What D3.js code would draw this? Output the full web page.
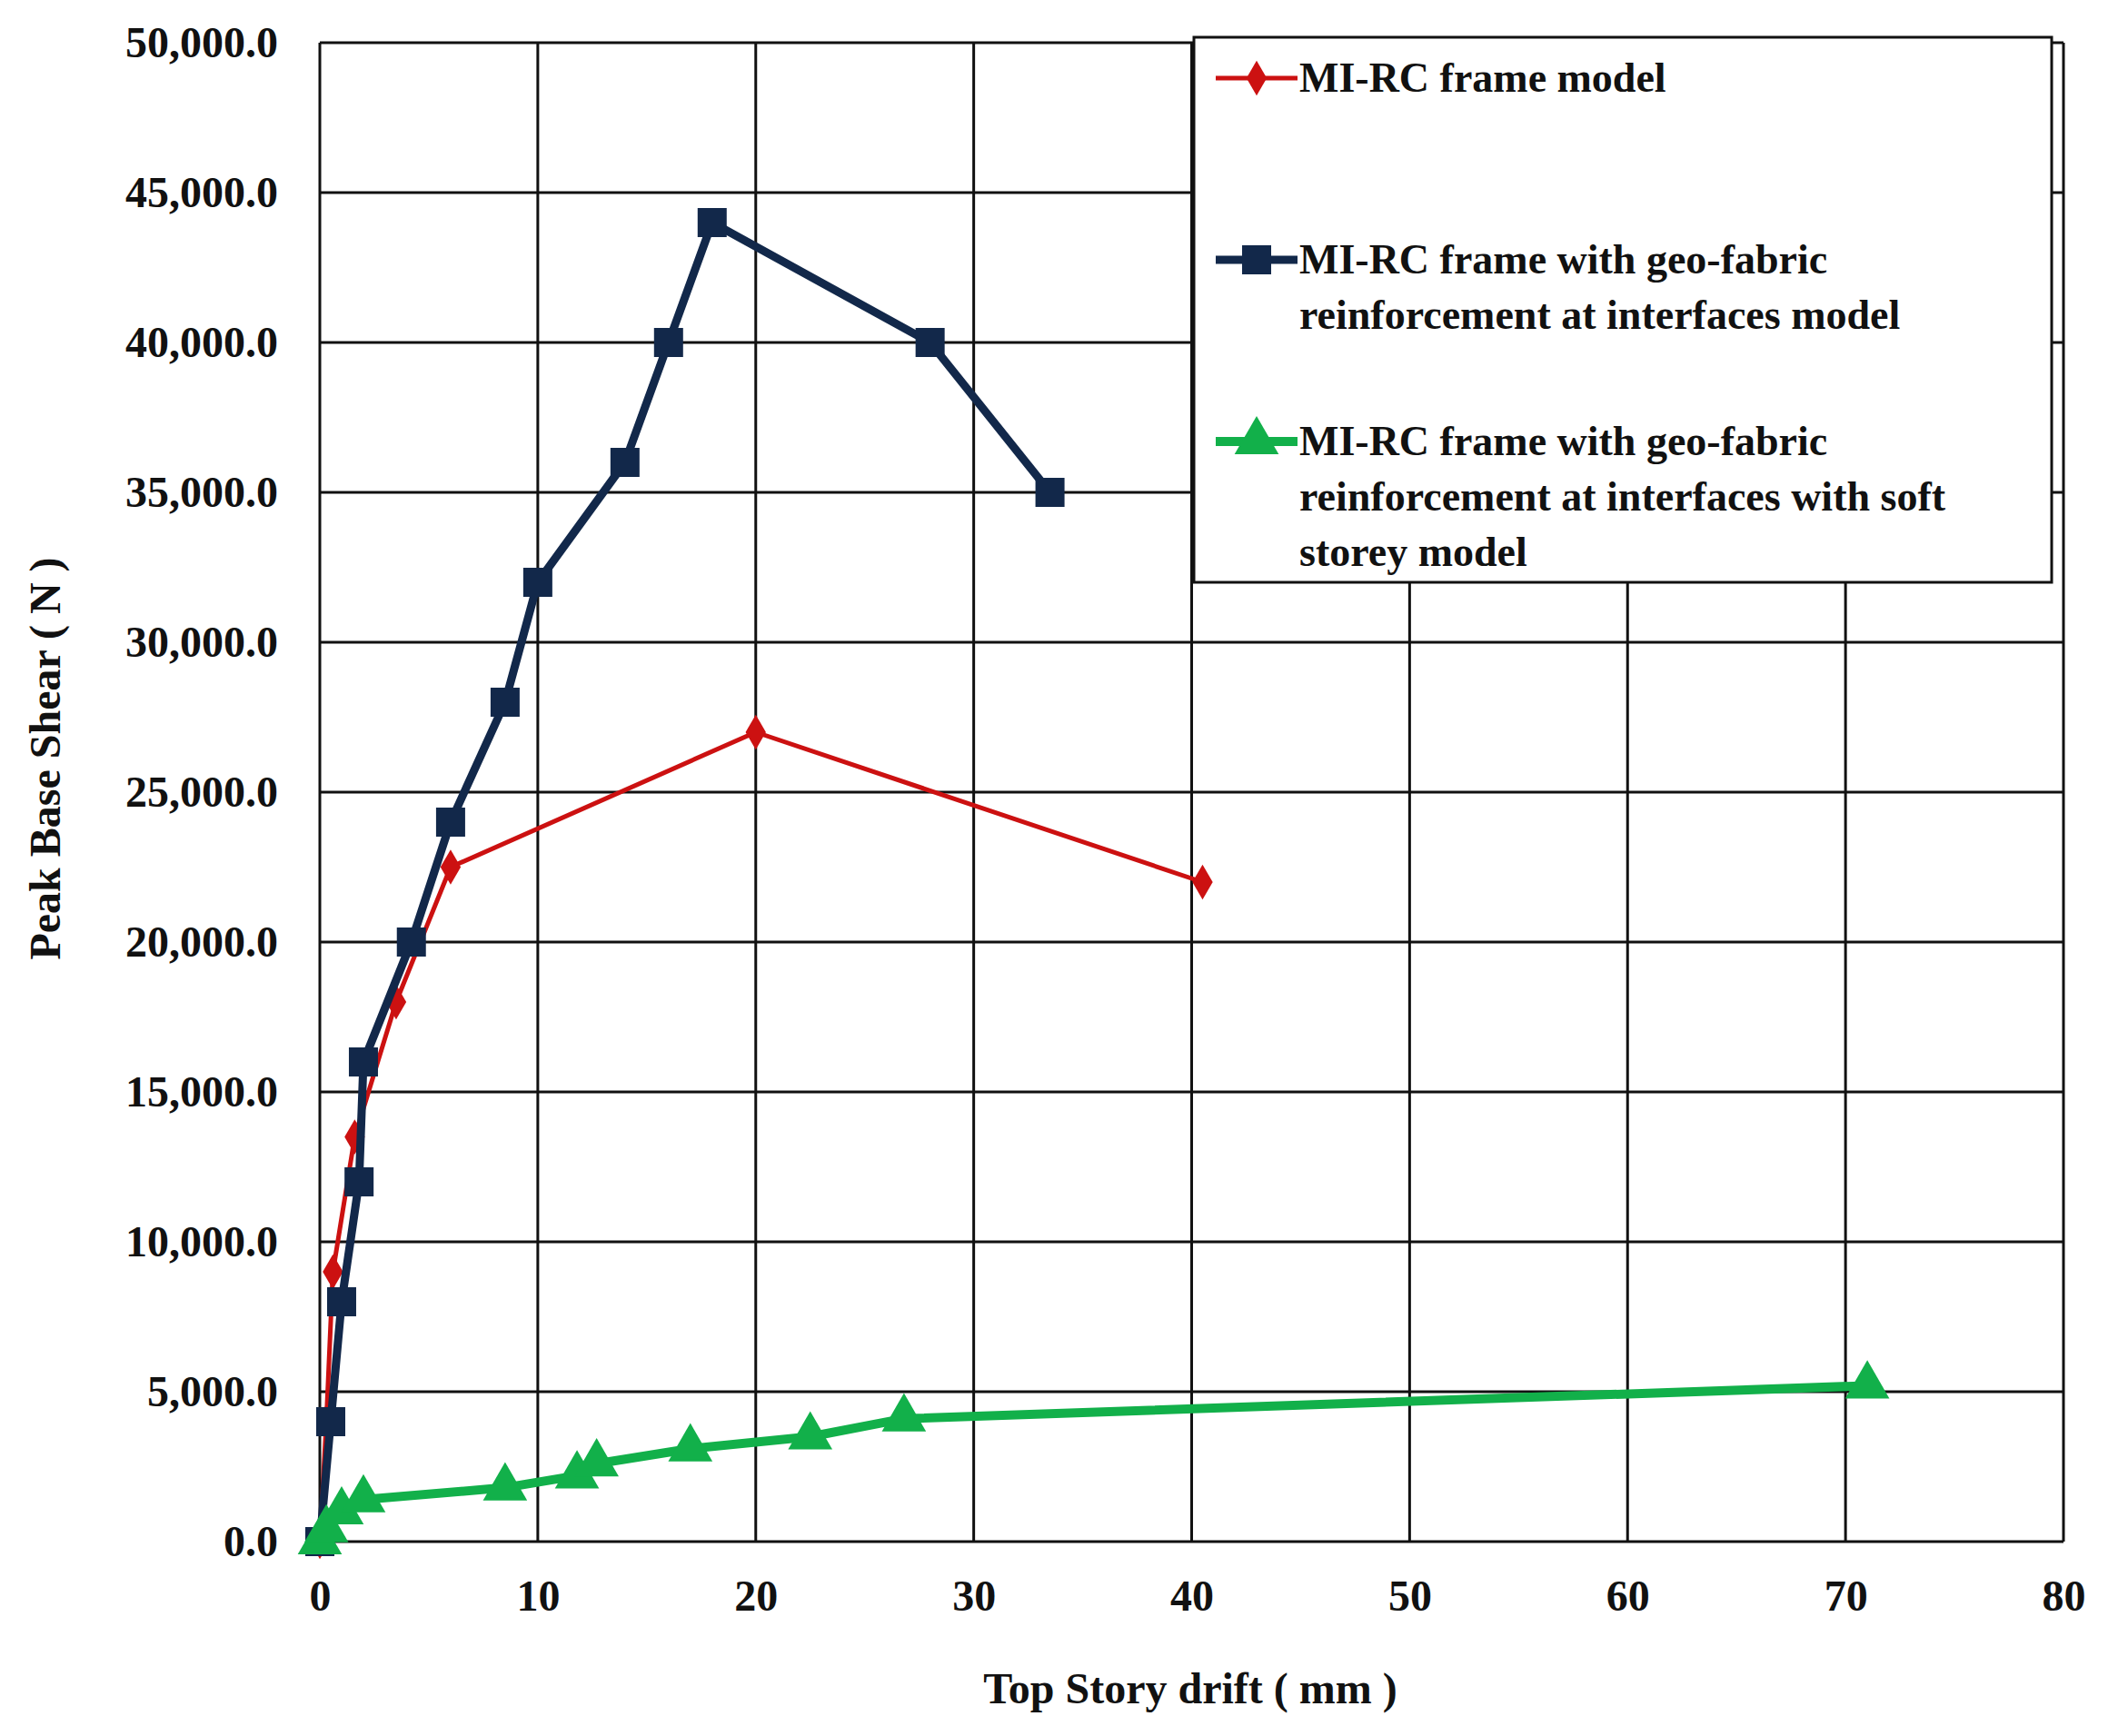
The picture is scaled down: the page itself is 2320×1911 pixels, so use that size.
<!DOCTYPE html>
<html><head><meta charset="utf-8">
<script src="https://cdn.jsdelivr.net/npm/d3@7"></script>
<style>body{margin:0;background:#fff}text{font-family:"Liberation Serif","Times New Roman",serif;font-weight:bold}</style>
</head><body>
<svg id="chart" width="2320" height="1911"></svg>
<script>
// data
var redX = [0, 0.3, 0.6, 1.6, 3.5, 6, 20, 40.5];
var redY = [0, 4000, 9000, 13500, 18000, 22500, 27000, 22000];
var blueX = [0, 0.5, 1, 1.8, 2, 4.2, 6, 8.5, 10, 14, 16, 18, 28, 33.5];
var blueY = [0, 4000, 8000, 12000, 16000, 20000, 24000, 28000, 32000, 36000, 40000, 44000, 40000, 35000];
var greenX = [0, 0.3, 1, 2, 8.5, 11.8, 12.7, 17, 22.5, 26.8, 71];
var greenY = [0, 400, 1000, 1400, 1800, 2200, 2600, 3100, 3500, 4100, 5200];
var xTicks = d3.range(0, 81, 10);
var yTicks = d3.range(0, 50001, 5000);
var names = ["MI-RC frame model",
  ["MI-RC frame with geo-fabric", "reinforcement at interfaces model"],
  ["MI-RC frame with geo-fabric", "reinforcement at interfaces with soft", "storey model"]];

var svg = d3.select("#chart");
var L = 352, R = 2271, T = 47, B = 1697;
var x = d3.scaleLinear().domain([0, 80]).range([L, R]);
var y = d3.scaleLinear().domain([0, 50000]).range([B, T]);

var g = svg.append("g");
g.selectAll(".gx").data(xTicks).enter().append("line")
  .attr("x1", d => x(d)).attr("x2", d => x(d)).attr("y1", T).attr("y2", B)
  .attr("stroke", "#111").attr("stroke-width", 3);
g.selectAll(".gy").data(yTicks).enter().append("line")
  .attr("x1", L).attr("x2", R).attr("y1", d => y(d)).attr("y2", d => y(d))
  .attr("stroke", "#111").attr("stroke-width", 3);

svg.append("g").attr("transform", "translate(0," + B + ")")
  .call(d3.axisBottom(x).tickValues(xTicks).tickSize(0).tickPadding(42))
  .call(a => a.select(".domain").remove())
  .selectAll("text").attr("font-size", 48).attr("fill", "#111");
svg.append("g").attr("transform", "translate(" + (L - 46) + ",0)")
  .call(d3.axisLeft(y).tickValues(yTicks).tickSize(0).tickPadding(0).tickFormat(d3.format(",.1f")))
  .call(a => a.select(".domain").remove())
  .selectAll("text").attr("font-size", 48).attr("fill", "#111");

svg.append("text").attr("x", 1310).attr("y", 1875).attr("text-anchor", "middle")
  .attr("font-size", 48).attr("fill", "#111").text("Top Story  drift ( mm )");
svg.append("text").attr("transform", "translate(66,835) rotate(-90)").attr("text-anchor", "middle")
  .attr("font-size", 48).attr("fill", "#111").text("Peak Base  Shear  ( N )");

var series = [
  {xs: redX, ys: redY, c: "#cc1111", w: 5, m: "diamond", s: 19},
  {xs: blueX, ys: blueY, c: "#12284a", w: 9, m: "square", s: 32},
  {xs: greenX, ys: greenY, c: "#12b04a", w: 10, m: "triangle", s: 32}
];
function marker(sel, s) {
  var sym = s.m == "diamond" ? d3.symbolDiamond : s.m == "square" ? d3.symbolSquare : d3.symbolTriangle;
  var size = s.m == "diamond" ? s.s * s.s * 1.2 : s.s * s.s;
  sel.attr("d", d3.symbol().type(sym).size(size)).attr("fill", s.c);
}
var line = d3.line().x(d => x(d[0])).y(d => y(d[1]));
series.forEach(function(s) {
  var pts = s.xs.map((v, i) => [v, s.ys[i]]);
  svg.append("path").datum(pts).attr("d", line).attr("fill", "none")
    .attr("stroke", s.c).attr("stroke-width", s.w).attr("stroke-linejoin", "round");
  svg.selectAll(null).data(pts).enter().append("path")
    .attr("transform", d => "translate(" + x(d[0]) + "," + y(d[1]) + ")")
    .call(sel => marker(sel, s));
});

// legend
var lg = svg.append("g");
lg.append("rect").attr("x", 1314).attr("y", 41).attr("width", 944).attr("height", 600)
  .attr("fill", "#fff").attr("stroke", "#111").attr("stroke-width", 3);
var rowY = [86, 286, 486];
series.forEach(function(s, i) {
  lg.append("line").attr("x1", 1338).attr("x2", 1428).attr("y1", rowY[i]).attr("y2", rowY[i])
    .attr("stroke", s.c).attr("stroke-width", s.w);
  lg.append("path").attr("transform", "translate(1383," + rowY[i] + ")").call(sel => marker(sel, s));
  var lines = [].concat(names[i]);
  lines.forEach(function(t, j) {
    lg.append("text").attr("x", 1430).attr("y", rowY[i] + 15 + j * 61)
      .attr("font-size", 46).attr("fill", "#111").text(t);
  });
});
</script>
</body></html>
